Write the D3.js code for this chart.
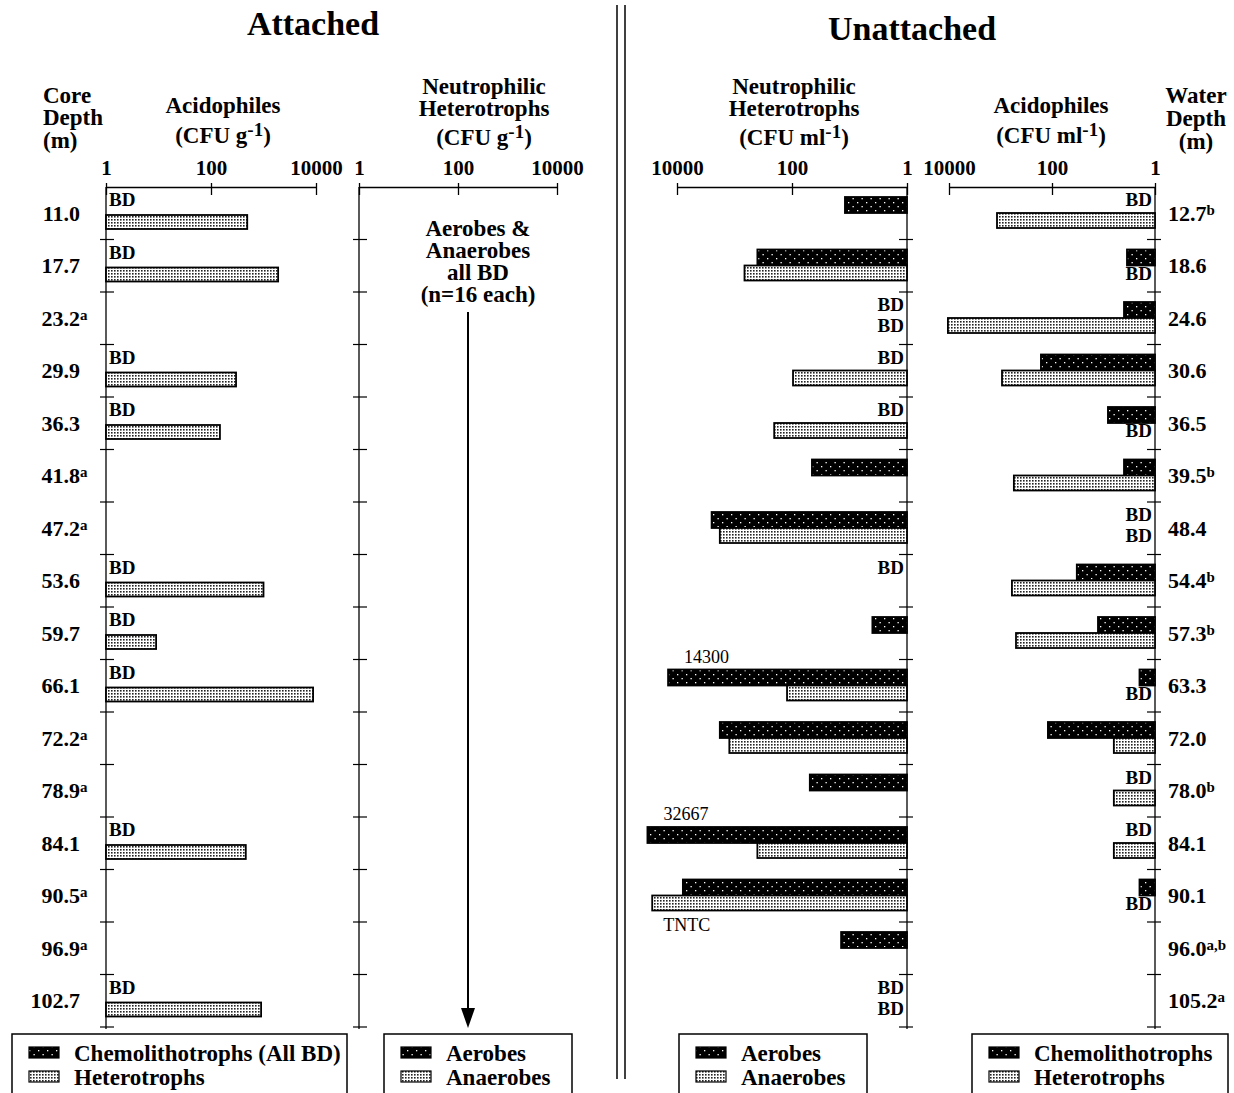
<!DOCTYPE html>
<html>
<head>
<meta charset="utf-8">
<script src="https://cdn.jsdelivr.net/npm/d3@7"></script>
<style>
  body { margin: 0; background: #fff; }
  svg { display: block; }
  text { font-family: "Liberation Serif", "DejaVu Serif", serif; fill: #000; }
</style>
</head>
<body>
<svg id="chart" width="1234" height="1093"></svg>
<script>
// ---- data ----
const axisTicks = [1, 100, 10000];

const coreDepths = ["11.0", "17.7", "23.2", "29.9", "36.3", "41.8", "47.2", "53.6",
  "59.7", "66.1", "72.2", "78.9", "84.1", "90.5", "96.9", "102.7"];
const coreNotes = ["", "", "a", "", "", "a", "a", "", "", "", "a", "a", "", "a", "a", ""];

// attached acidophiles (CFU g-1); "BD" = below detection, null = not shown
const attChemo = ["BD", "BD", null, "BD", "BD", null, null, "BD", "BD", "BD", null, null, "BD", null, null, "BD"];
const attHetero = [490, 1900, null, 300, 148, null, null, 1000, 9, 8800, null, null, 460, null, null, 900];

const waterDepths = ["12.7", "18.6", "24.6", "30.6", "36.5", "39.5", "48.4", "54.4",
  "57.3", "63.3", "72.0", "78.0", "84.1", "90.1", "96.0", "105.2"];
const waterNotes = ["b", "", "", "", "", "b", "", "b", "b", "", "", "b", "", "", "a,b", "a"];

// unattached neutrophilic heterotrophs (CFU ml-1)
const unAerobes = [12, 400, "BD", "BD", "BD", 45, 2500, "BD", 4, 14300, 1800, 49, 32667, 7900, 14, "BD"];
const unAnaerobes = [null, 670, "BD", 96, 204, null, 1800, null, null, 122, 1230, null, 400, 27000, null, "BD"];
const unNotes = [null, null, null, null, null, null, null, null, null, "14300", null, null, "32667", null, null, null];
const unAnaNotes = [null, null, null, null, null, null, null, null, null, null, null, null, null, "TNTC", null, null];

// unattached acidophiles (CFU ml-1)
const unChemo = ["BD", 3.5, 4, 164, 8.2, 4, "BD", 33, 12.8, 2, 120, "BD", "BD", 2, null, null];
const unHetero = [1170, "BD", 10500, 935, "BD", 550, "BD", 600, 500, "BD", 6.3, 6.3, 6.3, "BD", null, null];

// ---- drawing ----
const svg = d3.select("#chart");
const defs = svg.append("defs");

const pDark = defs.append("pattern").attr("id", "dark").attr("patternUnits", "userSpaceOnUse")
  .attr("width", 9).attr("height", 8);
pDark.append("rect").attr("width", 9).attr("height", 8).attr("fill", "#000");
pDark.append("rect").attr("x", 2).attr("y", 2).attr("width", 1.3).attr("height", 1.3).attr("fill", "#fff");
pDark.append("rect").attr("x", 6.5).attr("y", 6).attr("width", 1.3).attr("height", 1.3).attr("fill", "#fff");

const pLight = defs.append("pattern").attr("id", "light").attr("patternUnits", "userSpaceOnUse")
  .attr("width", 3).attr("height", 3);
pLight.append("rect").attr("width", 3).attr("height", 3).attr("fill", "#fff");
pLight.append("rect").attr("width", 1.6).attr("height", 1.6).attr("fill", "#222");

const axisY = 187, axisBottom = 1027;
const y = d3.scaleBand().domain(d3.range(coreDepths.length)).range([axisY, axisBottom]);
const step = y.step();

const panels = [
  { x: d3.scaleLog().domain([1, 10000]).range([106, 316]), side: 1 },
  { x: d3.scaleLog().domain([1, 10000]).range([359, 557]), side: 1 },
  { x: d3.scaleLog().domain([1, 10000]).range([907, 677]), side: -1 },
  { x: d3.scaleLog().domain([1, 10000]).range([1155, 949]), side: -1 }
];

panels.forEach(p => {
  const g = svg.append("g").attr("transform", `translate(0,${axisY})`);
  g.call(d3.axisTop(p.x).tickValues(axisTicks).tickFormat(d3.format("d")).tickSize(0).tickPadding(12));
  g.select(".domain").attr("stroke", "#000").attr("stroke-width", 1.3);
  g.selectAll(".tick line").attr("y1", -4).attr("y2", 8).attr("stroke", "#000").attr("stroke-width", 1.3);
  g.selectAll(".tick text").attr("font-size", 21).attr("font-family", "Liberation Serif")
    .attr("font-weight", "bold").attr("fill", "#000");

  const x0 = p.x(1);
  svg.append("line").attr("x1", x0).attr("x2", x0).attr("y1", axisY).attr("y2", axisBottom + 2)
    .attr("stroke", "#000").attr("stroke-width", 1.3);
  svg.selectAll(null).data(d3.range(1, coreDepths.length + 1)).enter().append("line")
    .attr("x1", x0 - 6 * p.side).attr("x2", x0 + 8 * p.side)
    .attr("y1", d => axisY + d * step).attr("y2", d => axisY + d * step)
    .attr("stroke", "#000").attr("stroke-width", 1.2);
});

// slot = [bar top, bar bottom, BD baseline] in px from the row top
const slotTop = [10, 26, 19], slotBot = [26, 41, 40];

function drawSeries(p, values, slot, fill) {
  values.forEach((v, i) => {
    const x0 = p.x(1);
    if (v === "BD") {
      svg.append("text")
        .attr("x", x0 + 3 * p.side)
        .attr("y", y(i) + slot[2])
        .attr("text-anchor", p.side > 0 ? "start" : "end")
        .attr("font-size", 19).attr("font-weight", "bold")
        .text("BD");
    } else if (v !== null) {
      const xv = p.x(v);
      svg.append("rect")
        .attr("x", Math.min(x0, xv)).attr("y", y(i) + slot[0])
        .attr("width", Math.abs(xv - x0)).attr("height", slot[1] - slot[0])
        .attr("fill", `url(#${fill})`)
        .attr("stroke", "#000").attr("stroke-width", 1.8);
    }
  });
}

// attached acidophiles: BD on top, heterotroph bar below
drawSeries(panels[0], attChemo, [0, 0, 19], "dark");
drawSeries(panels[0], attHetero, [28, 42, 40], "light");

drawSeries(panels[2], unAerobes, slotTop, "dark");
drawSeries(panels[2], unAnaerobes, slotBot, "light");
drawSeries(panels[3], unChemo, slotTop, "dark");
drawSeries(panels[3], unHetero, slotBot, "light");

// value notes beside the long bars
unNotes.forEach((t, i) => {
  if (!t) return;
  svg.append("text").attr("x", panels[2].x(unAerobes[i]) + 16).attr("y", y(i) + slotTop[0] - 7)
    .attr("font-size", 18).text(t);
});
unAnaNotes.forEach((t, i) => {
  if (!t) return;
  svg.append("text").attr("x", panels[2].x(unAnaerobes[i]) + 11).attr("y", y(i) + slotBot[1] + 20)
    .attr("font-size", 18).text(t);
});

// depth labels
coreDepths.forEach((d, i) => {
  const cy = y(i) + step / 2 + 7.5;
  svg.append("text").attr("x", 80).attr("y", cy).attr("text-anchor", "end")
    .attr("font-size", 22).attr("font-weight", "bold").text(d);
  if (coreNotes[i]) svg.append("text").attr("x", 80).attr("y", cy - 6)
    .attr("font-size", 15).attr("font-weight", "bold").text(coreNotes[i]);
});
waterDepths.forEach((d, i) => {
  const cy = y(i) + step / 2 + 7.5;
  const t = svg.append("text").attr("x", 1168).attr("y", cy).attr("font-size", 22).attr("font-weight", "bold");
  t.append("tspan").text(d);
  if (waterNotes[i]) t.append("tspan").attr("dy", -6).attr("font-size", 15).text(waterNotes[i]);
});

// headings
function lines(cx, baselines, texts, size, anchor) {
  texts.forEach((tx, i) => {
    const t = svg.append("text").attr("x", cx).attr("y", baselines[i])
      .attr("text-anchor", anchor || "middle")
      .attr("font-size", size || 23).attr("font-weight", "bold");
    if (Array.isArray(tx)) {
      t.append("tspan").text(tx[0]);
      t.append("tspan").attr("dy", -7).attr("font-size", 19).text(tx[1]);
      t.append("tspan").attr("dy", 7).text(tx[2]);
    } else t.text(tx);
  });
}
svg.append("text").attr("x", 313).attr("y", 35).attr("text-anchor", "middle")
  .attr("font-size", 34).attr("font-weight", "bold").text("Attached");
svg.append("text").attr("x", 912).attr("y", 40).attr("text-anchor", "middle")
  .attr("font-size", 34).attr("font-weight", "bold").text("Unattached");

lines(43, [103, 125, 148], ["Core", "Depth", "(m)"], 23, "start");
lines(223, [113, 143], ["Acidophiles", ["(CFU g", "-1", ")"]]);
lines(484, [94, 116, 145], ["Neutrophilic", "Heterotrophs", ["(CFU g", "-1", ")"]]);
lines(794, [94, 116, 145], ["Neutrophilic", "Heterotrophs", ["(CFU ml", "-1", ")"]]);
lines(1051, [113, 143], ["Acidophiles", ["(CFU ml", "-1", ")"]]);
lines(1196, [103, 126, 149], ["Water", "Depth", "(m)"]);

// attached neutrophils note + arrow
lines(478, [236, 258, 280, 302], ["Aerobes &", "Anaerobes", "all BD", "(n=16 each)"], 23);
svg.append("line").attr("x1", 468).attr("x2", 468).attr("y1", 312).attr("y2", 1010)
  .attr("stroke", "#000").attr("stroke-width", 2);
svg.append("path").attr("d", "M461,1008 L475,1008 L468,1028 Z").attr("fill", "#000");

// divider
[617, 625].forEach(x => svg.append("line").attr("x1", x).attr("x2", x).attr("y1", 5).attr("y2", 1079)
  .attr("stroke", "#000").attr("stroke-width", 1.5));

// legends
const legends = [
  { x: 12, w: 335, items: [["dark", "Chemolithotrophs (All BD)"], ["light", "Heterotrophs"]] },
  { x: 384, w: 188, items: [["dark", "Aerobes"], ["light", "Anaerobes"]] },
  { x: 679, w: 188, items: [["dark", "Aerobes"], ["light", "Anaerobes"]] },
  { x: 972, w: 256, items: [["dark", "Chemolithotrophs"], ["light", "Heterotrophs"]] }
];
legends.forEach(l => {
  svg.append("rect").attr("x", l.x).attr("y", 1034).attr("width", l.w).attr("height", 70)
    .attr("fill", "none").attr("stroke", "#000").attr("stroke-width", 1.5);
  l.items.forEach((it, i) => {
    svg.append("rect").attr("x", l.x + 17).attr("y", 1047 + i * 24).attr("width", 30).attr("height", 11)
      .attr("fill", `url(#${it[0]})`).attr("stroke", "#000").attr("stroke-width", 1.2);
    svg.append("text").attr("x", l.x + 62).attr("y", 1061 + i * 24)
      .attr("font-size", 23).attr("font-weight", "bold").text(it[1]);
  });
});
</script>
</body>
</html>
